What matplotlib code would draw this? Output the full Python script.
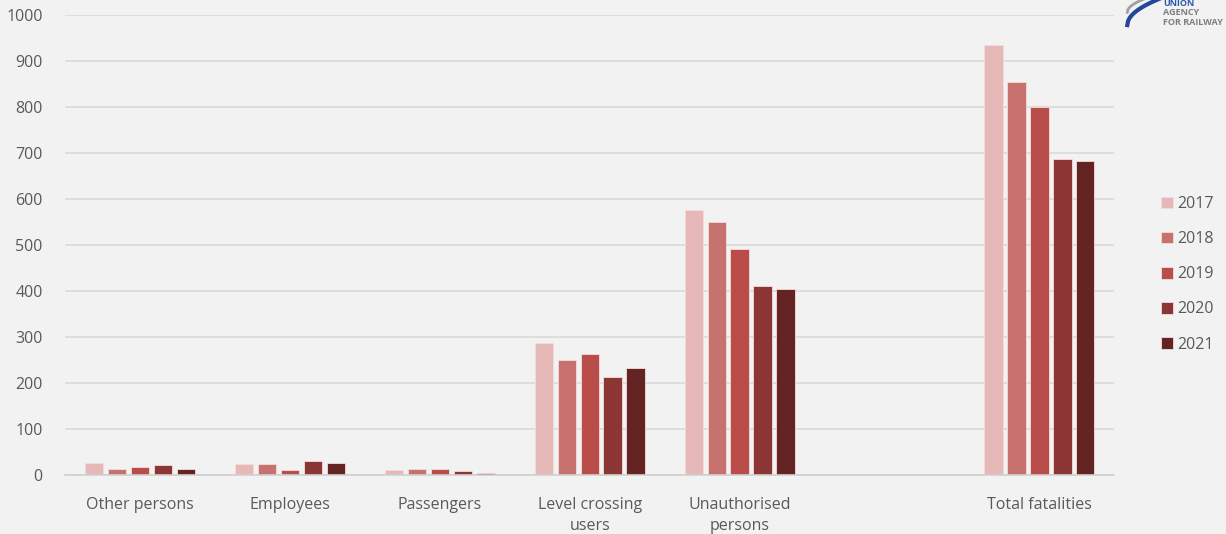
import numpy as np
import matplotlib.pyplot as plt

# Railway fatalities by person category
categories = ['Other persons', 'Employees', 'Passengers', 'Level crossing\nusers',
              'Unauthorised\npersons', '', 'Total fatalities']
years = ['2017', '2018', '2019', '2020', '2021']
v2017 = [25, 24, 10, 287, 577, None, 934]
v2018 = [12, 23, 14, 251, 549, None, 854]
v2019 = [17, 11, 14, 262, 491, None, 801]
v2020 = [21, 30, 9, 212, 411, None, 687]
v2021 = [12, 25, 4, 232, 404, None, 683]
colors = ['#E6B8B7', '#C87270', '#B84D49', '#8B3634', '#632423']

bg = '#F2F2F2'
txt = '#595959'
plt.rcParams['font.family'] = ['Open Sans', 'DejaVu Sans']

fig = plt.figure(figsize=(12.26, 5.34), dpi=100, facecolor=bg)
ax = fig.add_axes([0.053, 0.1105, 0.856, 0.8615], facecolor=bg)

x = np.arange(len(categories))
pitch = 0.153
width = 0.122
series = [v2017, v2018, v2019, v2020, v2021]
for i, (vals, col, yr) in enumerate(zip(series, colors, years)):
    xs = [xx for xx, v in zip(x, vals) if v is not None]
    vs = [v for v in vals if v is not None]
    ax.bar(np.array(xs) + (i - 2) * pitch, vs, width, color=col, label=yr,
           edgecolor='#F5DCDC', linewidth=0.6, zorder=3)

ax.set_xlim(-0.5, len(categories) - 0.5)
ax.set_ylim(0, 1000)
ax.set_yticks(range(0, 1001, 100))
ax.yaxis.grid(True, color='#D9D9D9', linewidth=1.2, zorder=0)
ax.set_xticks(x)
ax.set_xticklabels(categories, fontsize=11.5, color=txt, linespacing=1.4)
ax.tick_params(axis='y', labelsize=11.5, labelcolor=txt, length=0, pad=16)
ax.tick_params(axis='x', length=0, pad=16)
for s in ['top', 'right', 'left']:
    ax.spines[s].set_visible(False)
ax.spines['bottom'].set_color('#D0D0D0')
ax.spines['bottom'].set_linewidth(1.2)
ax.spines['bottom'].set_zorder(4)

leg = fig.legend(loc='upper left', bbox_to_anchor=(0.935, 0.66), frameon=False,
                 fontsize=11.5, handlelength=0.75, handleheight=0.75,
                 handletextpad=0.3, labelspacing=1.2)
for t in leg.get_texts():
    t.set_color(txt)

# agency logo in the corner
fig.text(0.949, 0.993, 'UNION', color='#2B5BA8', fontsize=6.5, fontweight='bold',
         va='center', ha='left')
fig.text(0.949, 0.976, 'AGENCY', color='#7F7F7F', fontsize=6.5, fontweight='bold',
         va='center', ha='left')
fig.text(0.949, 0.958, 'FOR RAILWAY', color='#7F7F7F', fontsize=6.5, fontweight='bold',
         va='center', ha='left')
t = np.linspace(0, 1, 40)
fig.add_artist(plt.Line2D(0.9195 + 0.027 * t, 0.953 + 0.05 * np.sqrt(t),
                          color='#24479A', linewidth=3, transform=fig.transFigure))
fig.add_artist(plt.Line2D(0.9195 + 0.02 * t, 0.977 + 0.03 * np.sqrt(t),
                          color='#A0A0A0', linewidth=2, transform=fig.transFigure))

fig.savefig('out.png', dpi=100, facecolor=bg)
